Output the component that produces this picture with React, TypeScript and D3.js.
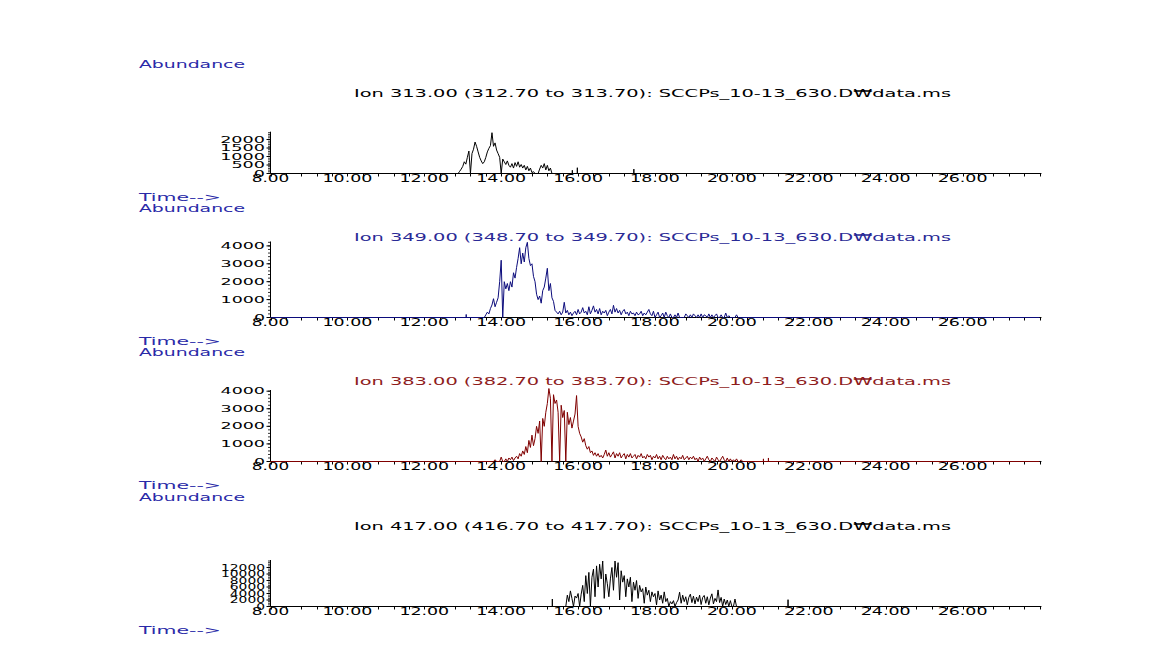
import React from "react";
import * as d3 from "d3";

// ---------- DATA ----------
const xTickLabels = ["8.00", "10.00", "12.00", "14.00", "16.00", "18.00", "20.00", "22.00", "24.00", "26.00"];
const xTickValues = [8, 10, 12, 14, 16, 18, 20, 22, 24, 26];

const titles = [
  "Ion 313.00 (312.70 to 313.70): SCCPs_10-13_630.D\u20A9data.ms",
  "Ion 349.00 (348.70 to 349.70): SCCPs_10-13_630.D\u20A9data.ms",
  "Ion 383.00 (382.70 to 383.70): SCCPs_10-13_630.D\u20A9data.ms",
  "Ion 417.00 (416.70 to 417.70): SCCPs_10-13_630.D\u20A9data.ms",
];

const scanStep = 0.04;

// Ion 313
const ion313Start = 12.88;
const ion313Values = [
  0, 130, 260, 420, 690, 550, 950, 1320, 0, 1170, 1430, 1850, 1600, 1270, 950, 740, 580, 690, 950, 1270,
  1480, 1640, 2400, 1600, 1800, 1380, 1170, 950, 0, 850, 690, 530, 740, 480, 370, 580, 320, 640, 420, 690,
  370, 530, 320, 480, 210, 420, 160, 320, 50, 110, 0, 0, 0, 260, 480, 320, 580, 210, 480, 160, 320, 0,
];
const ion313Spikes: [number, number][] = [[15.85, 190], [15.98, 340], [17.45, 260]];

// Ion 349
const ion349Start = 13.56;
const ion349Values = [
  0, 150, 300, 200, 500, 700, 1050, 600, 850, 1100, 2000, 3200, 0, 2000, 1600, 1900, 1500, 2000, 1700, 2500,
  2200, 2800, 3300, 3900, 3000, 3600, 3100, 3900, 4200, 3300, 2900, 3000, 2300, 2000, 1300, 1000, 1200, 800, 1500, 1700,
  2200, 2750, 1500, 1900, 1100, 900, 400, 300, 200, 350, 150, 300, 850, 250, 400, 150, 300, 100, 250, 350,
  150, 450, 200, 300, 550, 250, 350, 150, 600, 200, 400, 650, 300, 450, 200, 500, 150, 350, 250, 400,
  100, 300, 450, 200, 680, 300, 500, 250, 400, 150, 350, 450, 200, 300, 100, 350, 200, 250, 100, 300,
  150, 200, 350, 100, 250, 150, 300, 450, 200, 100, 350, 0, 150, 300, 0, 100, 250, 0, 300, 100,
  0, 200, 0, 0, 150, 0, 250, 0, 0, 0, 0, 200, 100, 0, 150, 0, 200, 100, 0, 150,
  0, 200, 0, 150, 100, 0, 200, 0, 150, 0, 100, 200, 0, 0, 150, 0, 0, 250, 0, 100,
  0, 0, 0, 0, 150, 0,
];
const ion349Spikes: [number, number][] = [[13.09, 170]];

// Ion 383
const ion383Start = 13.84;
const ion383Values = [
  100, 0, 0, 0, 250, 0, 0, 150, 0, 200, 100, 250, 50, 200, 300, 150, 450, 300, 600, 400,
  850, 500, 1200, 800, 1500, 900, 1300, 2000, 1600, 2300, 0, 2450, 2000, 2800, 3300, 4150, 3600, 0, 3800, 3300,
  3500, 2800, 0, 3200, 2500, 2900, 0, 2800, 2100, 2500, 1900, 2300, 2700, 3750, 2000, 1600, 1400, 1100, 1300, 900,
  700, 850, 500, 600, 350, 500, 300, 450, 250, 350, 200, 400, 650, 300, 500, 250, 400, 550, 200, 450,
  300, 500, 200, 350, 450, 150, 400, 250, 450, 200, 300, 400, 150, 350, 250, 450, 200, 300, 150, 400,
  250, 350, 100, 300, 200, 400, 150, 300, 100, 350, 200, 100, 300, 150, 250, 100, 400, 150, 300, 100,
  250, 150, 350, 100, 200, 300, 100, 250, 150, 300, 100, 200, 0, 250, 100, 200, 0, 150, 300, 100,
  0, 200, 100, 0, 250, 100, 0, 150, 300, 100, 0, 200, 0, 150, 0, 100, 0, 150, 0, 0,
  100, 0,
];
const ion383Spikes: [number, number][] = [[20.82, 150], [20.95, 200]];

// Ion 417
const ion417Start = 15.68;
const ion417Values = [
  0, 3500, 1500, 4800, 2500, 0, 3200, 2600, 4000, 0, 3800, 6500, 1500, 9500, 4000, 10500, 0, 9000, 11500, 3000,
  12500, 6000, 13000, 8500, 14000, 2500, 10000, 7000, 3000, 8500, 12000, 5000, 14000, 9000, 13500, 2000, 11000, 7500, 9500, 3000,
  8500, 6000, 9000, 1500, 7500, 5000, 8000, 2500, 6500, 4500, 5500, 1000, 6000, 3500, 5000, 1500, 4500, 3000, 4000, 500,
  4800, 2000, 3500, 1000, 4500, 1500, 2500, 0, 1500, 800, 1800, 0, 1200, 2000, 4400, 1000, 3500, 1500, 3000, 500,
  2800, 3800, 1200, 3200, 800, 2900, 1500, 3500, 600, 2800, 3400, 1000, 3000, 500, 2600, 3900, 800, 2500, 1500, 5100,
  1200, 2800, 0, 2300, 600, 2000, 0, 1800, 0, 0, 2300, 0, 0, 0,
];
const ion417Spikes: [number, number][] = [[15.33, 2300], [21.46, 2100]];

const ion313Ticks = [0, 500, 1000, 1500, 2000];
const ion349Ticks = [0, 1000, 2000, 3000, 4000];
const ion383Ticks = [0, 1000, 2000, 3000, 4000];
const ion417Ticks = [0, 2000, 4000, 6000, 8000, 10000, 12000];

// ---------- LAYOUT ----------
const W = 1160;
const H = 645;
const xLeft = 270.5;
const xDomain: [number, number] = [8, 28.05];
const xRight = xLeft + 38.45 * (xDomain[1] - xDomain[0]);
const fontFam = "'DejaVu Sans', Verdana, sans-serif";
const blue = "#2a2aa8";

type Panel = {
  title: string;
  titleColor: string;
  lineColor: string;
  base: number;
  top: number;
  yMax: number;
  ticks: number[];
  minorStep: number;
  labelCharW: number;
  start: number;
  values: number[];
  spikes: [number, number][];
};

const panels: Panel[] = [
  { title: titles[0], titleColor: "#000", lineColor: "#000", base: 173.5, top: 131.7, yMax: 41.8 / 0.017, ticks: ion313Ticks, minorStep: 100, labelCharW: 11.2, start: ion313Start, values: ion313Values, spikes: ion313Spikes },
  { title: titles[1], titleColor: "#2a2a96", lineColor: "#0c0c7c", base: 317.5, top: 241.5, yMax: 76 / 0.0179, ticks: ion349Ticks, minorStep: 200, labelCharW: 11.1, start: ion349Start, values: ion349Values, spikes: ion349Spikes },
  { title: titles[2], titleColor: "#8e1c1c", lineColor: "#800000", base: 461.5, top: 390, yMax: 71.5 / 0.01758, ticks: ion383Ticks, minorStep: 200, labelCharW: 11.1, start: ion383Start, values: ion383Values, spikes: ion383Spikes },
  { title: titles[3], titleColor: "#000", lineColor: "#000", base: 606.5, top: 560, yMax: 46.5 / 0.00325, ticks: ion417Ticks, minorStep: 500, labelCharW: 8.8, start: ion417Start, values: ion417Values, spikes: ion417Spikes },
];

function buildPoints(p: Panel): [number, number][] {
  const pts: [number, number][] = [];
  const seg: [number, number][] = p.values.map((v, i) => [p.start + i * scanStep, v]);
  // the signal sits on the baseline just before and after the listed scans
  seg.unshift([p.start - scanStep, 0]);
  seg.push([p.start + p.values.length * scanStep, 0]);
  const spikePts: [number, number][] = [];
  p.spikes.forEach(([t, v]) => {
    spikePts.push([t, 0], [t, v], [t, 0]);
  });
  pts.push([xDomain[0], 0]);
  const all = [...spikePts.map((d, i) => ({ d, k: i })), ...seg.map((d, i) => ({ d, k: 1000 + i }))];
  all.sort((a, b) => a.d[0] - b.d[0] || a.k - b.k);
  all.forEach(({ d }) => pts.push(d));
  pts.push([28.0, 0]);
  return pts;
}

const x = d3.scaleLinear().domain(xDomain).range([xLeft, xRight]);
const minorX = d3.range(8, 28.001, 0.4);

function PanelView({ p }: { p: Panel }) {
  const y = d3.scaleLinear().domain([0, p.yMax]).range([p.base, p.top]);
  const line = d3
    .line<[number, number]>()
    .x((d) => x(d[0]))
    .y((d) => y(d[1]));
  const pts = buildPoints(p);
  const minorY = d3.range(0, p.yMax, p.minorStep);
  return (
    <g>
      <text x={139} y={p.base - 105.8} fontSize={10.5} fontFamily={fontFam} fill={blue} textLength={106} lengthAdjust="spacingAndGlyphs">
        Abundance
      </text>
      <text x={354} y={p.base - 76.5} fontSize={10.5} fontFamily={fontFam} fill={p.titleColor} textLength={597} lengthAdjust="spacingAndGlyphs">
        {p.title}
      </text>
      <text x={139} y={p.base + 27.3} fontSize={10.5} fontFamily={fontFam} fill={blue} textLength={82} lengthAdjust="spacingAndGlyphs">
        {"Time-->"}
      </text>
      {/* axes */}
      <line x1={xLeft} x2={xRight} y1={p.base} y2={p.base} stroke="#000" strokeWidth={1} />
      <line x1={xLeft} x2={xLeft} y1={p.base} y2={p.top} stroke="#000" strokeWidth={1} />
      {minorX.map((t, i) => (
        <line key={"mx" + i} x1={Math.round(x(t)) + 0.5} x2={Math.round(x(t)) + 0.5} y1={p.base} y2={p.base + 3} stroke="#000" strokeWidth={1} />
      ))}
      {minorY.map((v, i) => (
        <line key={"my" + i} x1={xLeft - 2.5} x2={xLeft} y1={y(v)} y2={y(v)} stroke="#000" strokeWidth={0.8} />
      ))}
      {p.ticks.map((v, i) => (
        <line key={"ty" + i} x1={xLeft - 4} x2={xLeft} y1={y(v)} y2={y(v)} stroke="#000" strokeWidth={1} />
      ))}
      {xTickValues.map((t, i) => (
        <text
          key={"xl" + i}
          x={x(t)}
          y={p.base + 8.6}
          fontSize={10.5}
          fontFamily={fontFam}
          textAnchor="middle"
          fill="#000"
          textLength={xTickLabels[i].length === 4 ? 37.6 : 49.8}
          lengthAdjust="spacingAndGlyphs"
        >
          {xTickLabels[i]}
        </text>
      ))}
      {p.ticks.map((v, i) => {
        const s = String(v);
        return (
          <text
            key={"yl" + i}
            x={265}
            y={y(v) + 3}
            fontSize={8.5}
            fontFamily={fontFam}
            textAnchor="end"
            fill="#000"
            textLength={s.length * p.labelCharW}
            lengthAdjust="spacingAndGlyphs"
          >
            {s}
          </text>
        );
      })}
      <path d={line(pts) || ""} fill="none" stroke={p.lineColor} strokeWidth={1} />
    </g>
  );
}

export default function App() {
  return (
    <svg width={W} height={H} style={{ position: "absolute", left: 0, top: 0, background: "#fff" }}>
      <rect x={0} y={0} width={W} height={H} fill="#fff" />
      {panels.map((p, i) => (
        <PanelView key={i} p={p} />
      ))}
    </svg>
  );
}
